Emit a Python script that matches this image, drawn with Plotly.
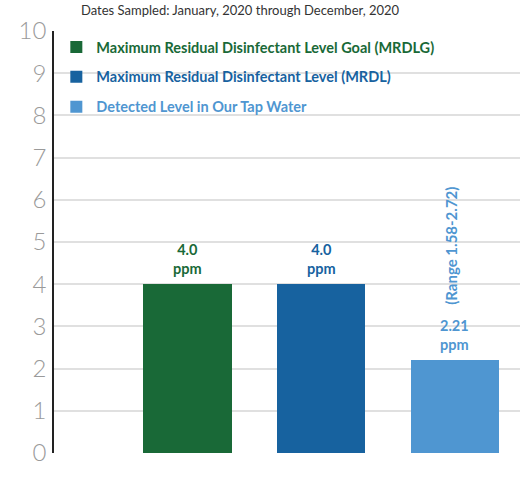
import plotly.graph_objects as go

categories = ["MRDLG", "MRDL", "Detected"]
names = [
    "Maximum Residual Disinfectant Level Goal (MRDLG)",
    "Maximum Residual Disinfectant Level (MRDL)",
    "Detected Level in Our Tap Water",
]
values = [4.0, 4.0, 2.21]
value_labels = ["4.0", "4.0", "2.21"]
unit = "ppm"
range_label = "(Range 1.58-2.72)"
range_label_y = 4.9
colors = ["#196937", "#17629f", "#4f96d1"]
title = "Dates Sampled: January, 2020 through December, 2020"
y_ticks = list(range(0, 11))

FONT = "Lato"

fig = go.Figure()
for i, (cat, name, val, col) in enumerate(zip(categories, names, values, colors)):
    fig.add_trace(go.Bar(
        x=[i], y=[val], width=0.66,
        marker=dict(color=col, line=dict(width=0)),
        name=f"<span style='color:{col}'><b>{name}</b></span>",
        legendgroup=cat,
        hoverinfo="skip",
    ))
    fig.add_annotation(
        x=i, y=val, xref="x", yref="y",
        text=f"<b>{value_labels[i]}<br>{unit}</b>",
        showarrow=False, yanchor="bottom", yshift=6, borderpad=0,
        font=dict(family=FONT, size=14.5, color=col),
    )

fig.add_annotation(
    x=2, y=range_label_y, xref="x", yref="y",
    text=f"<b>{range_label}</b>", textangle=-90,
    showarrow=False, xshift=-3,
    font=dict(family=FONT, size=15, color=colors[2]),
)

fig.add_annotation(
    x=0.4, y=1.0, xref="paper", yref="paper", yanchor="middle", yshift=21,
    text=title, showarrow=False, borderpad=0,
    font=dict(family=FONT, size=13, color="#333333"),
)

fig.update_layout(
    width=520, height=478,
    margin=dict(l=54, r=0, t=31, b=25),
    paper_bgcolor="white", plot_bgcolor="white",
    showlegend=True,
    legend=dict(
        x=0.005, y=1.0, xanchor="left", yanchor="top",
        traceorder="grouped", tracegroupgap=8,
        font=dict(family=FONT, size=14.5),
        bgcolor="rgba(0,0,0,0)",
    ),
    bargap=0,
)
fig.update_xaxes(
    range=[-1, 2.49], showgrid=False, zeroline=False,
    showticklabels=False, showline=False, ticks="",
)
fig.update_yaxes(
    range=[0, 10], tickvals=y_ticks, ticktext=[str(t) for t in y_ticks],
    showgrid=True, gridcolor="#e0e0e0", gridwidth=1.5,
    zeroline=True, zerolinecolor="white", zerolinewidth=3,
    showline=True, linecolor="#222222", linewidth=1.5,
    ticks="", ticklabelstandoff=1,
    tickfont=dict(family=FONT, size=24, color="#9a9a9a", weight=300),
)

fig.write_html(
    "out.html",
    config={"displayModeBar": False},
    post_script="document.body.style.margin='0';",
)
